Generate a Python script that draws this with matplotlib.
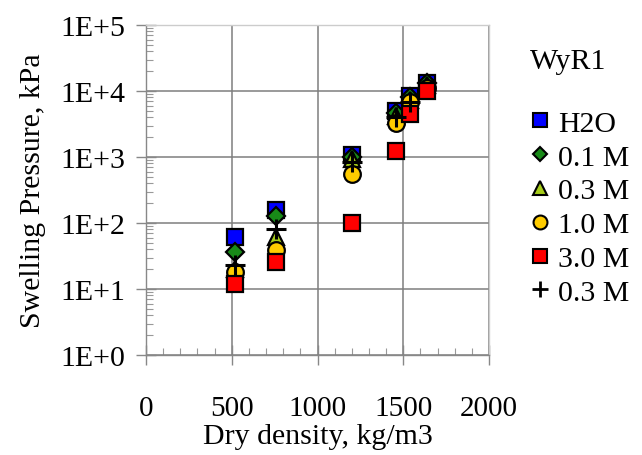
import math
import matplotlib
matplotlib.use("Agg")
import matplotlib.pyplot as plt
from matplotlib.ticker import FuncFormatter, LogLocator, NullFormatter, MultipleLocator
from matplotlib.lines import Line2D

plt.rcParams['font.family'] = ['Liberation Serif', 'DejaVu Serif']

# data
dens_h2o = [520, 760, 1200, 1460, 1540, 1640]
sp_h2o = [61, 160, 1060, 5000, 8500, 13400]
dens_01 = [520, 760, 1200, 1460, 1540, 1640]
sp_01 = [36, 126, 1000, 4600, 8000, 13000]
dens_03 = [520, 760, 1200, 1460, 1540, 1640]
sp_03 = [20, 61, 930, 4200, 7200, 12500]
dens_10 = [520, 760, 1200, 1460, 1540, 1640]
sp_10 = [18, 39, 560, 3300, 6900, 11000]
dens_30 = [520, 760, 1200, 1460, 1540, 1640]
sp_30 = [12, 26, 100, 1240, 4500, 9900]
dens_03b = [520, 760, 1200, 1460, 1540]
sp_03b = [23, 80, 850, 4000, 6900]

series = [
    ("H2O", dens_h2o, sp_h2o, 's', '#0000FF', 12),
    ("0.1 M", dens_01, sp_01, 'D', '#188A18', 9),
    ("0.3 M", dens_03, sp_03, '^', '#A6CC1A', 12),
    ("1.0 M", dens_10, sp_10, 'o', '#FFCC00', 12),
    ("3.0 M", dens_30, sp_30, 's', '#FF0000', 12),
    ("0.3 M", dens_03b, sp_03b, '+', 'black', 14),
]

FS = 21.5
FSX = 21

fig = plt.figure(figsize=(6.42, 4.56), dpi=100)
ax = fig.add_axes([146/642, 1-356/456, (489-146)/642, (356-26)/456])

for i, (lab, xs, ys, m, c, ms) in enumerate(series):
    if m == '+':
        ax.plot(xs, ys, linestyle='none', marker=m, color='black', markersize=ms,
                markeredgewidth=2.2, zorder=3+i)
    else:
        ax.plot(xs, ys, linestyle='none', marker=m, markerfacecolor=c,
                markeredgecolor='black', markersize=ms, markeredgewidth=1.6, zorder=3+i)

ax.set_yscale('log')
ax.set_xlim(0, 2000)
ax.set_ylim(1, 1e5)
ax.xaxis.set_major_locator(MultipleLocator(500))
ax.xaxis.set_minor_locator(MultipleLocator(100))
ax.yaxis.set_major_locator(LogLocator(base=10, numticks=10))
ax.yaxis.set_minor_locator(LogLocator(base=10, subs=range(2, 10), numticks=20))
ax.yaxis.set_minor_formatter(NullFormatter())
ax.yaxis.set_major_formatter(FuncFormatter(lambda v, p: "1E+%d" % round(math.log10(v))))

ax.grid(True, which='major', color='#7f7f7f', linewidth=1.1)
ax.set_axisbelow(True)
for s in ['top', 'right']:
    ax.spines[s].set_color('#cccccc')
    ax.spines[s].set_linewidth(1.0)
for s in ['left', 'bottom']:
    ax.spines[s].set_color('#888888')
    ax.spines[s].set_linewidth(1.0)

ax.tick_params(axis='both', which='major', direction='inout', length=14, width=1,
               color='#888888', labelcolor='black')
ax.tick_params(axis='x', which='major', pad=22, labelsize=FSX)
ax.tick_params(axis='y', which='major', pad=8, labelsize=FS)
ax.tick_params(axis='both', which='minor', direction='in', length=5, width=0.8, color='#999999')
ax.tick_params(top=False, right=False, which='both')

ax.set_xlabel("Dry density, kg/m3", fontsize=FS, labelpad=1.5)
ax.set_ylabel("Swelling Pressure, kPa", fontsize=FS, labelpad=10)

handles = []
for lab, xs, ys, m, c, ms in series:
    if m == '+':
        h = Line2D([], [], linestyle='none', marker='+', color='black', markersize=11,
                   markeredgewidth=2.0, label=lab)
    else:
        h = Line2D([], [], linestyle='none', marker=m, markerfacecolor=c, markeredgecolor='black',
                   markersize=(7 if m == 'D' else 10), markeredgewidth=1.5, label=lab)
    handles.append(h)

fig.text(568/642, 1-69/456, "WyR1", fontsize=FS, ha='center', va='baseline')
fig.legend(handles=handles, loc='upper left', bbox_to_anchor=(530/642, 1-111/456),
           frameon=False, fontsize=FS, handlelength=0.7, handletextpad=0.25,
           labelspacing=0.23, borderpad=0, borderaxespad=0)

fig.savefig("out.png", dpi=100)
